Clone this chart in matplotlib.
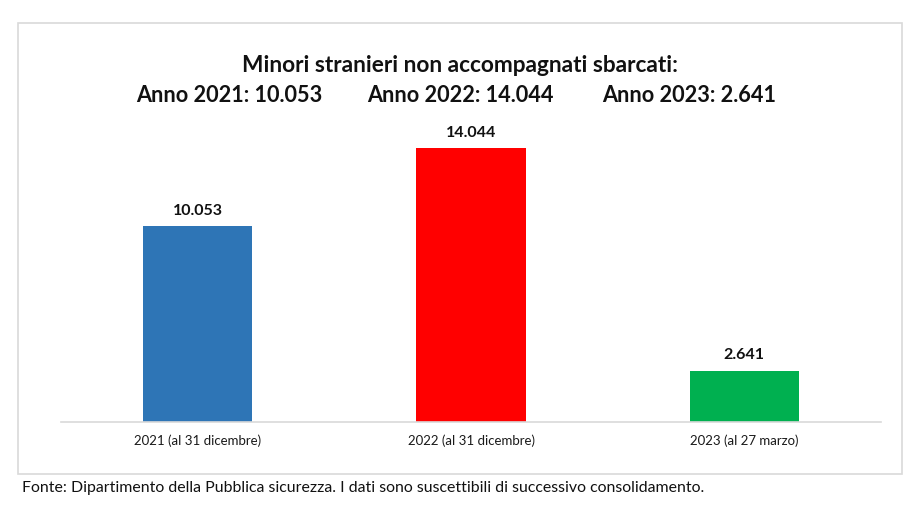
import matplotlib
matplotlib.use("Agg")
import matplotlib.pyplot as plt
from matplotlib.patches import Rectangle

categories = ["2021 (al 31 dicembre)", "2022 (al 31 dicembre)", "2023 (al 27 marzo)"]
values = [10053, 14044, 2641]
value_labels = ["10.053", "14.044", "2.641"]
colors = ["#2E75B6", "#FF0000", "#00B050"]
title_line1 = "Minori stranieri non accompagnati sbarcati:"
title_parts = ["Anno 2021: 10.053", "Anno 2022: 14.044", "Anno 2023: 2.641"]
footer = "Fonte: Dipartimento della Pubblica sicurezza. I dati sono suscettibili di successivo consolidamento."

W, H = 923, 521
plt.rcParams['font.family'] = ['Lato', 'DejaVu Sans']
fig = plt.figure(figsize=(W / 100, H / 100), dpi=100)
fig.patch.set_facecolor("white")

def fx(x):
    return x / W

def fy(y):
    return 1 - y / H

# outer frame
fig.patches.append(Rectangle((fx(18), fy(474)), fx(902) - fx(18), fy(23) - fy(474),
                             transform=fig.transFigure, fill=False,
                             edgecolor="#D9D9D9", linewidth=1.2))

ax = fig.add_axes([fx(61), fy(422), fx(881) - fx(61), (422 - 120) / H])
x = list(range(len(categories)))
ax.bar(x, values, width=0.40, color=colors, zorder=2)
ax.set_xlim(-0.5, len(categories) - 0.5)
ax.set_ylim(0, 15500)
for s in ["top", "right", "left"]:
    ax.spines[s].set_visible(False)
ax.spines["bottom"].set_color("#D9D9D9")
ax.spines["bottom"].set_linewidth(1.2)
ax.set_yticks([])
ax.set_xticks(x)
ax.set_xticklabels(categories, fontsize=9.5, color="#1a1a1a")
ax.tick_params(axis="x", length=0, pad=9)
ax.set_facecolor("none")

for xi, v, lab in zip(x, values, value_labels):
    ax.annotate(lab, (xi, v), xytext=(0, 6), textcoords="offset points",
                ha="center", va="bottom", fontsize=11.5, fontweight="bold", color="#111111")

fig.text(fx(460), fy(66), title_line1, ha="center", va="center",
         fontsize=16.3, fontweight="bold", color="#111111")
for cx, t in zip([229, 460, 689], title_parts):
    fig.text(fx(cx), fy(96), t, ha="center", va="center",
             fontsize=15.6, fontweight="bold", color="#111111")

fig.text(fx(22), fy(488), footer, ha="left", va="center", fontsize=11.4, color="#111111")

fig.savefig("out.png", dpi=100, facecolor="white")
